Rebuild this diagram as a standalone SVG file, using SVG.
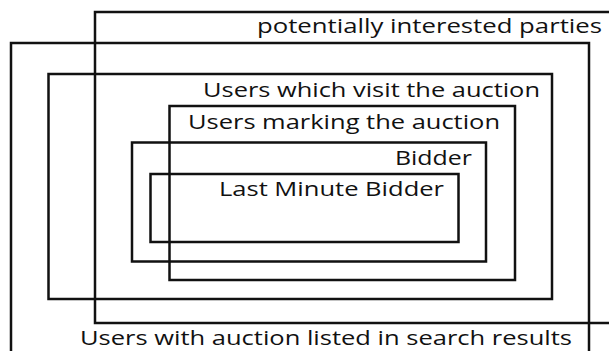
<svg xmlns="http://www.w3.org/2000/svg" width="609" height="351" viewBox="0 0 609 351">
<style>
.box{fill:none;stroke:#111;stroke-width:2.5}
.lbl{font-family:"Open Sans","Liberation Sans",sans-serif;font-size:19.5px;fill:#111;text-anchor:end}
</style>
<rect width="609" height="351" fill="#fff"/>
<g id="potentially-interested-parties">
<rect class="box" x="95" y="12" width="530" height="311"/>
<text class="lbl" x="602" y="33" textLength="345" lengthAdjust="spacingAndGlyphs">potentially interested parties</text>
</g>
<g id="users-search-results">
<rect class="box" x="11" y="43" width="578" height="320"/>
<text class="lbl" x="572" y="345" textLength="492" lengthAdjust="spacingAndGlyphs">Users with auction listed in search results</text>
</g>
<g id="users-visit">
<rect class="box" x="48.5" y="74" width="503.5" height="225"/>
<text class="lbl" x="540" y="97" textLength="337" lengthAdjust="spacingAndGlyphs">Users which visit the auction</text>
</g>
<g id="users-marking">
<rect class="box" x="169.5" y="106" width="345.5" height="174"/>
<text class="lbl" x="500" y="129" textLength="312" lengthAdjust="spacingAndGlyphs">Users marking the auction</text>
</g>
<g id="bidder">
<rect class="box" x="132" y="142.5" width="354" height="119"/>
<text class="lbl" x="472" y="165" textLength="77" lengthAdjust="spacingAndGlyphs">Bidder</text>
</g>
<g id="last-minute-bidder">
<rect class="box" x="150.5" y="174" width="308" height="68"/>
<text class="lbl" x="444" y="196" textLength="225" lengthAdjust="spacingAndGlyphs">Last Minute Bidder</text>
</g>
<g id="connectors"></g>
</svg>
